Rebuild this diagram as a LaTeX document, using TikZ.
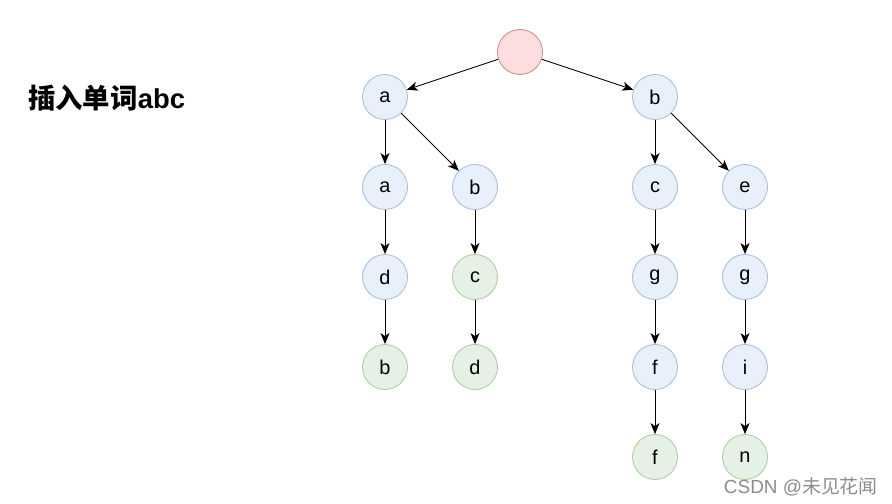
\documentclass[tikz,border=0pt]{standalone}
\usepackage{fontspec}
\setmainfont{Liberation Sans}
\newfontfamily\cjk{Noto Sans CJK SC}
\usetikzlibrary{arrows.meta}
\definecolor{bluefill}{HTML}{E8F0FB}
\definecolor{bluedraw}{HTML}{A3BBDD}
\definecolor{greenfill}{HTML}{E5F1E4}
\definecolor{greendraw}{HTML}{A9CD97}
\definecolor{redfill}{HTML}{FCDEDE}
\definecolor{reddraw}{HTML}{CC8A88}
\begin{document}
\begin{tikzpicture}[x=1bp,y=-1bp,
  trienode/.style={circle,minimum size=45bp,inner sep=0pt,line width=0.8bp,font=\fontsize{20}{24}\selectfont},
  bluen/.style={trienode,fill=bluefill,draw=bluedraw},
  greenn/.style={trienode,fill=greenfill,draw=greendraw},
  redn/.style={trienode,fill=redfill,draw=reddraw},
  edge/.style={draw=black,line width=0.9bp,-{Stealth[length=11bp,width=9bp,inset=3bp]}}]
\useasboundingbox (0,0) rectangle (892,504);
\node[redn] (root) at (520,52) {};
\node[bluen] (a1) at (385,97) {a};
\node[bluen] (b1) at (655,97) {b};
\node[bluen] (a2) at (385,187) {a};
\node[bluen] (b2) at (475,187) {b};
\node[bluen] (c2) at (655,187) {c};
\node[bluen] (e2) at (745,187) {e};
\node[bluen] (d3) at (385,277) {d};
\node[greenn] (c3) at (475,277) {c};
\node[bluen] (g3) at (655,277) {g};
\node[bluen] (g3b) at (745,277) {g};
\node[greenn] (b4) at (385,367) {b};
\node[greenn] (d4) at (475,367) {d};
\node[bluen] (f4) at (655,367) {f};
\node[bluen] (i4) at (745,367) {i};
\node[greenn] (f5) at (655,457) {f};
\node[greenn] (n5) at (745,457) {n};
\draw[edge] (root) -- (a1);
\draw[edge] (root) -- (b1);
\draw[edge] (a1) -- (a2);
\draw[edge] (a1) -- (b2);
\draw[edge] (b1) -- (c2);
\draw[edge] (b1) -- (e2);
\draw[edge] (a2) -- (d3);
\draw[edge] (b2) -- (c3);
\draw[edge] (c2) -- (g3);
\draw[edge] (e2) -- (g3b);
\draw[edge] (d3) -- (b4);
\draw[edge] (c3) -- (d4);
\draw[edge] (g3) -- (f4);
\draw[edge] (g3b) -- (i4);
\draw[edge] (f4) -- (f5);
\draw[edge] (i4) -- (n5);
\node[anchor=west,inner sep=0pt,font=\fontsize{27.5}{30}\selectfont\bfseries] (title) at (28,98) {{\cjk\bfseries 插入单词}abc};
\node[anchor=east,inner sep=0pt,text=black!45,font=\fontsize{19}{22}\selectfont] (mark) at (878,487) {CSDN @{\cjk 未见花闻}};
\end{tikzpicture}
\end{document}
